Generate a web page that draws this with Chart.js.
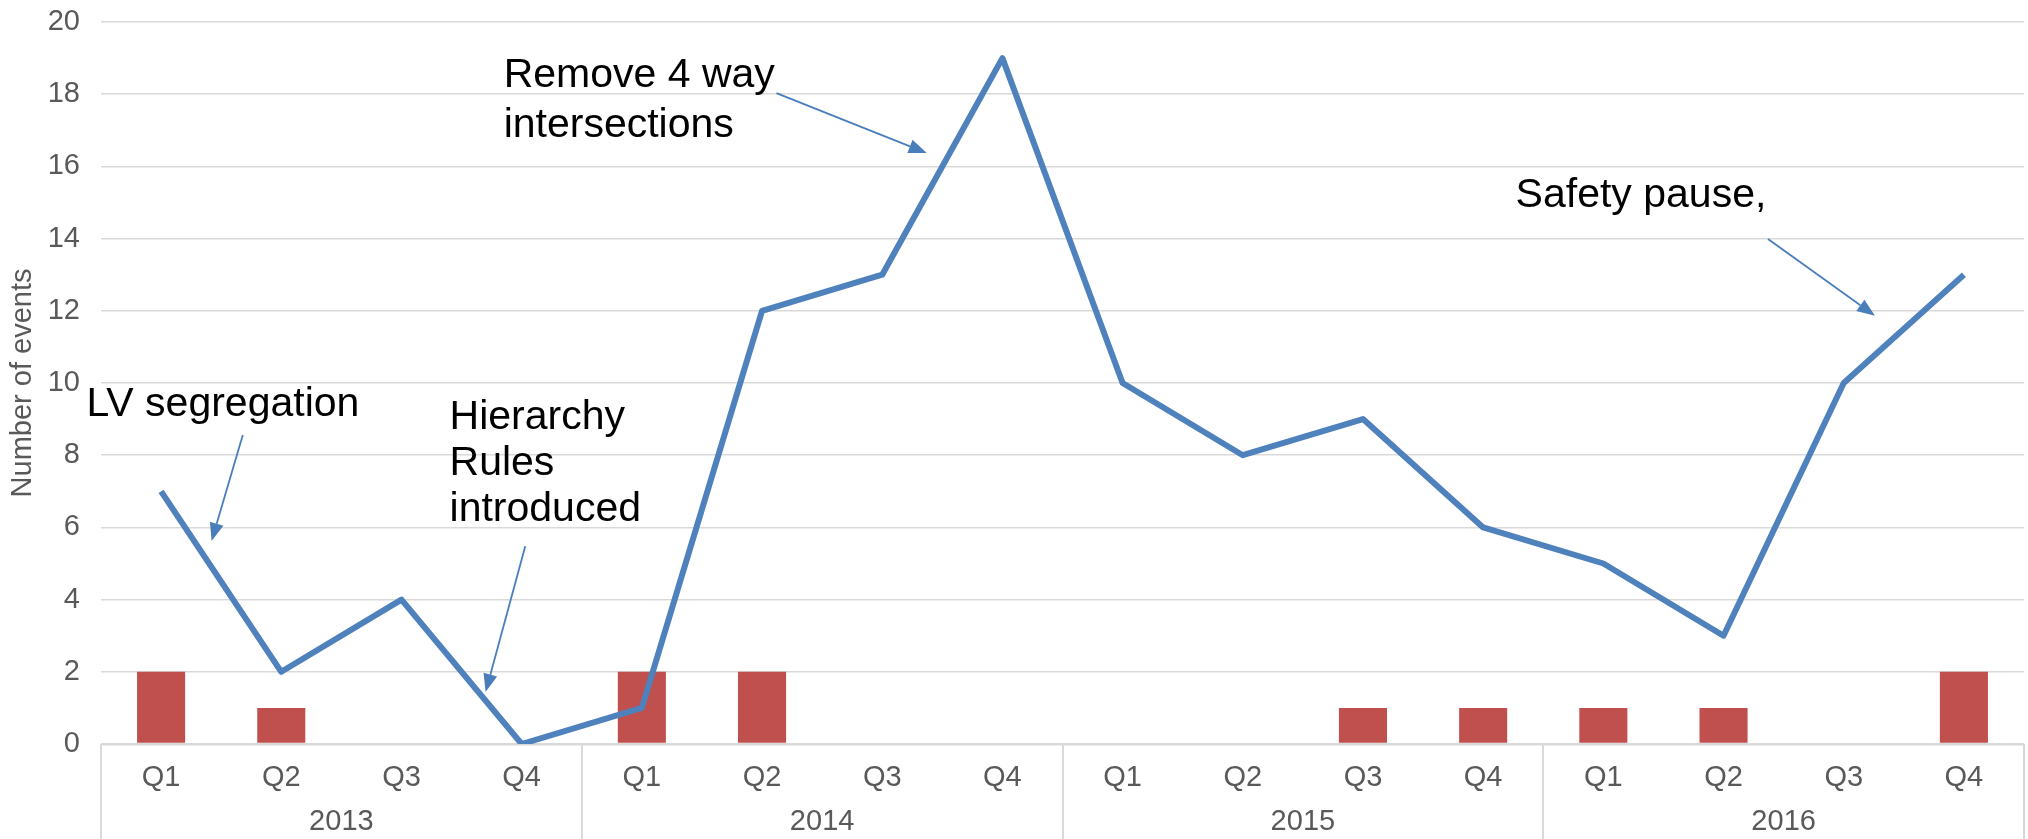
<!DOCTYPE html>
<html>
<head>
<meta charset="utf-8">
<script src="https://cdn.jsdelivr.net/npm/chart.js@4.4.1/dist/chart.umd.min.js"></script>
<style>
  html, body { margin: 0; padding: 0; background: #fff; }
  #wrap { width: 2028px; height: 839px; position: relative; }
</style>
</head>
<body>
<div id="wrap"><canvas id="eventsChart"></canvas></div>
<script>
// quarters along the axis, grouped by year underneath
const quarters = ['Q1', 'Q2', 'Q3', 'Q4', 'Q1', 'Q2', 'Q3', 'Q4', 'Q1', 'Q2', 'Q3', 'Q4', 'Q1', 'Q2', 'Q3', 'Q4'];
const years = ['2013', '2014', '2015', '2016'];
const lineValues = [7, 2, 4, 0, 1, 12, 13, 19, 10, 8, 9, 6, 5, 3, 10, 13];
const barValues = [2, 1, 0, 0, 2, 2, 0, 0, 0, 0, 1, 1, 1, 1, 0, 2];
const yTicks = [0, 2, 4, 6, 8, 10, 12, 14, 16, 18, 20];

// callouts, in data units (x = category index, y = value)
const notes = [
    { lines: ['LV segregation'], x: -0.62, y: 9.4, gap: 46, from: [0.68, 8.56], to: [0.42, 5.62] },
    { lines: ['Hierarchy', 'Rules', 'introduced'], x: 2.40, y: 9.05, gap: 46, from: [3.03, 5.48], to: [2.70, 1.44] },
    { lines: ['Remove 4 way', 'intersections'], x: 2.85, y: 18.5, gap: 50, from: [5.12, 18.03], to: [6.37, 16.37] },
    { lines: ['Safety pause,'], x: 11.27, y: 15.2, gap: 46, from: [13.37, 13.99], to: [14.26, 11.86] }
];

const GRID = '#d9d9d9';
const TEXT = '#595959';
const FONT = '"Liberation Sans", Arial, sans-serif';

const yearAxis = {
    id: 'yearAxis',
    afterDraw(chart) {
        const ctx = chart.ctx;
        const x = chart.scales.x;
        const top = chart.chartArea.bottom;
        ctx.save();
        ctx.strokeStyle = GRID;
        ctx.lineWidth = 2;
        for (let k = 0; k <= years.length; k++) {
            const px = Math.round(x.getPixelForValue(k * 4 - 0.5));
            ctx.beginPath();
            ctx.moveTo(px, top);
            ctx.lineTo(px, chart.height);
            ctx.stroke();
        }
        ctx.fillStyle = TEXT;
        ctx.font = '29px ' + FONT;
        ctx.textAlign = 'center';
        ctx.textBaseline = 'middle';
        years.forEach((yr, i) => {
            ctx.fillText(yr, x.getPixelForValue(i * 4 + 1.5), top + 78);
        });
        ctx.restore();
    }
};

const callouts = {
    id: 'callouts',
    afterDatasetsDraw(chart) {
        const ctx = chart.ctx;
        const xs = chart.scales.x, ys = chart.scales.y;
        ctx.save();
        ctx.font = '41px ' + FONT;
        ctx.textAlign = 'left';
        ctx.textBaseline = 'middle';
        notes.forEach(n => {
            ctx.fillStyle = '#000';
            const tx = xs.getPixelForValue(n.x);
            const ty = ys.getPixelForValue(n.y);
            n.lines.forEach((l, i) => ctx.fillText(l, tx, ty + i * n.gap));

            const x1 = xs.getPixelForValue(n.from[0]), y1 = ys.getPixelForValue(n.from[1]);
            const x2 = xs.getPixelForValue(n.to[0]), y2 = ys.getPixelForValue(n.to[1]);
            const ang = Math.atan2(y2 - y1, x2 - x1);
            const head = 18, half = 7;
            ctx.strokeStyle = '#4a7ebb';
            ctx.fillStyle = '#4a7ebb';
            ctx.lineWidth = 1.8;
            ctx.beginPath();
            ctx.moveTo(x1, y1);
            ctx.lineTo(x2 - Math.cos(ang) * head, y2 - Math.sin(ang) * head);
            ctx.stroke();
            ctx.beginPath();
            ctx.moveTo(x2, y2);
            ctx.lineTo(x2 - Math.cos(ang) * head - Math.sin(ang) * half, y2 - Math.sin(ang) * head + Math.cos(ang) * half);
            ctx.lineTo(x2 - Math.cos(ang) * head + Math.sin(ang) * half, y2 - Math.sin(ang) * head - Math.cos(ang) * half);
            ctx.closePath();
            ctx.fill();
        });
        ctx.restore();
    }
};

const ctx = document.getElementById('eventsChart').getContext('2d');
new Chart(ctx, {
    data: {
        labels: quarters,
        datasets: [{
            type: 'line',
            label: 'Events',
            data: lineValues,
            borderColor: '#4f81bd',
            borderWidth: 6,
            borderJoinStyle: 'round',
            pointRadius: 0,
            tension: 0,
            order: 0
        }, {
            type: 'bar',
            label: 'Serious events',
            data: barValues,
            backgroundColor: '#c0504d',
            categoryPercentage: 1,
            barPercentage: 0.4,
            order: 1
        }]
    },
    options: {
        responsive: true,
        maintainAspectRatio: false,
        animation: false,
        layout: { padding: { top: 22, right: 4, bottom: 0, left: 0 } },
        plugins: {
            legend: { display: false },
            tooltip: { enabled: false }
        },
        scales: {
            x: {
                offset: true,
                grid: { display: false, drawTicks: false },
                border: { display: false },
                ticks: { color: TEXT, font: { size: 29, family: FONT }, padding: 17, maxRotation: 0 },
                afterFit: s => { s.height = 95; }
            },
            y: {
                min: 0,
                max: 20,
                afterBuildTicks: s => { s.ticks = yTicks.map(v => ({ value: v })); },
                grid: {
                    color: GRID,
                    lineWidth: c => (c.tick && c.tick.value === 0 ? 2.5 : 1.5),
                    drawTicks: false
                },
                border: { display: false },
                ticks: { color: TEXT, font: { size: 29, family: FONT }, padding: 21 },
                title: {
                    display: true,
                    text: 'Number of events',
                    color: TEXT,
                    font: { size: 29, family: FONT },
                    padding: { top: 6, bottom: 0 }
                },
                afterFit: s => {
                    s.width = 101;
                    // tick padding otherwise pushes the plot top down
                    s.paddingTop = 0;
                    s.paddingBottom = 0;
                }
            }
        }
    },
    plugins: [yearAxis, callouts]
});
</script>
</body>
</html>
